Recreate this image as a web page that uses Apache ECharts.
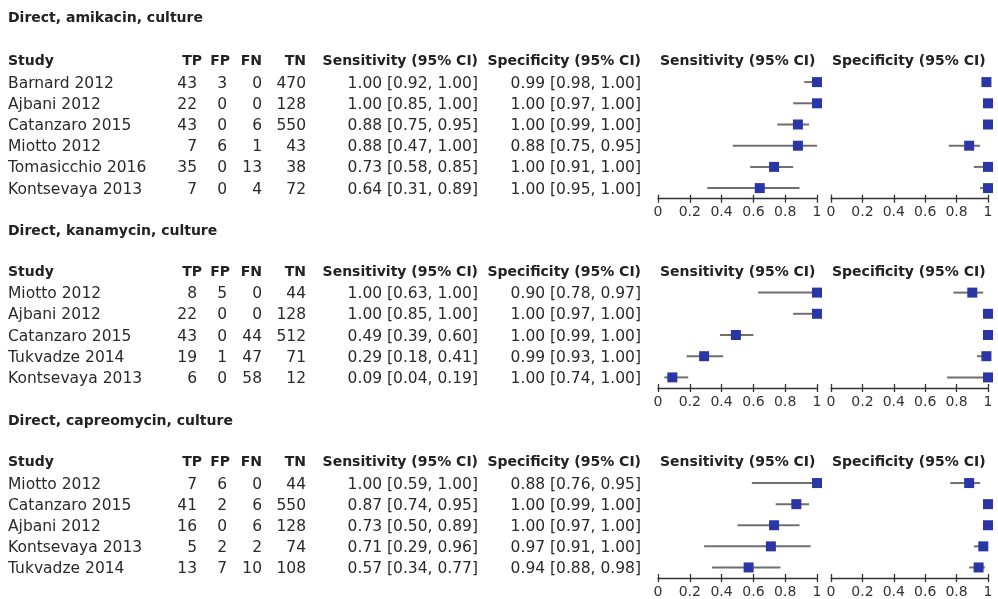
<!DOCTYPE html>
<html>
<head>
<meta charset="utf-8">
<script src="https://cdn.jsdelivr.net/npm/echarts@6/dist/echarts.min.js"></script>
<style>html,body{margin:0;padding:0;background:#fff;}#c{width:998px;height:599px;}</style>
</head>
<body>
<div id="c"></div>
<script>
// ---------- DATA ----------
const titles = ['Direct, amikacin, culture', 'Direct, kanamycin, culture', 'Direct, capreomycin, culture'];

const amiStudies = ['Barnard 2012', 'Ajbani 2012', 'Catanzaro 2015', 'Miotto 2012', 'Tomasicchio 2016', 'Kontsevaya 2013'];
const amiTP = [43, 22, 43, 7, 35, 7];
const amiFP = [3, 0, 0, 6, 0, 0];
const amiFN = [0, 0, 6, 1, 13, 4];
const amiTN = [470, 128, 550, 43, 38, 72];
const amiSens = [1.00, 1.00, 0.88, 0.88, 0.73, 0.64];
const amiSensLo = [0.92, 0.85, 0.75, 0.47, 0.58, 0.31];
const amiSensHi = [1.00, 1.00, 0.95, 1.00, 0.85, 0.89];
const amiSpec = [0.99, 1.00, 1.00, 0.88, 1.00, 1.00];
const amiSpecLo = [0.98, 0.97, 0.99, 0.75, 0.91, 0.95];
const amiSpecHi = [1.00, 1.00, 1.00, 0.95, 1.00, 1.00];

const kanStudies = ['Miotto 2012', 'Ajbani 2012', 'Catanzaro 2015', 'Tukvadze 2014', 'Kontsevaya 2013'];
const kanTP = [8, 22, 43, 19, 6];
const kanFP = [5, 0, 0, 1, 0];
const kanFN = [0, 0, 44, 47, 58];
const kanTN = [44, 128, 512, 71, 12];
const kanSens = [1.00, 1.00, 0.49, 0.29, 0.09];
const kanSensLo = [0.63, 0.85, 0.39, 0.18, 0.04];
const kanSensHi = [1.00, 1.00, 0.60, 0.41, 0.19];
const kanSpec = [0.90, 1.00, 1.00, 0.99, 1.00];
const kanSpecLo = [0.78, 0.97, 0.99, 0.93, 0.74];
const kanSpecHi = [0.97, 1.00, 1.00, 1.00, 1.00];

const capStudies = ['Miotto 2012', 'Catanzaro 2015', 'Ajbani 2012', 'Kontsevaya 2013', 'Tukvadze 2014'];
const capTP = [7, 41, 16, 5, 13];
const capFP = [6, 2, 0, 2, 7];
const capFN = [0, 6, 6, 2, 10];
const capTN = [44, 550, 128, 74, 108];
const capSens = [1.00, 0.87, 0.73, 0.71, 0.57];
const capSensLo = [0.59, 0.74, 0.50, 0.29, 0.34];
const capSensHi = [1.00, 0.95, 0.89, 0.96, 0.77];
const capSpec = [0.88, 1.00, 1.00, 0.97, 0.94];
const capSpecLo = [0.76, 0.99, 0.97, 0.91, 0.88];
const capSpecHi = [0.95, 1.00, 1.00, 1.00, 0.98];

const tickValues = [0, 0.2, 0.4, 0.6, 0.8, 1];
const tableHeaders = ['Study', 'TP', 'FP', 'FN', 'TN', 'Sensitivity (95% CI)', 'Specificity (95% CI)'];
const plotHeaders = ['Sensitivity (95% CI)', 'Specificity (95% CI)'];

// ---------- LAYOUT ----------
const W = 998;
const ROW_H = 21.2;
const secTops = [71.5, 282, 472.5];
const titleTops = [11, 224, 414];
const FONT = '"DejaVu Sans", Verdana, sans-serif';
const TXT = '#222';
const BLUE = '#2b36a6';
const GRAYLINE = '#6f6f6f';
const valueCols = [
  {x: 8, align: 'left'}, {x: 197, align: 'right'}, {x: 227, align: 'right'},
  {x: 262, align: 'right'}, {x: 306, align: 'right'}, {x: 478, align: 'right'}, {x: 641, align: 'right'}
];
const headCols = [
  {x: 8, align: 'left'}, {x: 202, align: 'right'}, {x: 230, align: 'right'},
  {x: 262, align: 'right'}, {x: 306, align: 'right'}, {x: 478, align: 'right'}, {x: 641, align: 'right'}
];
const plotHeadX = [660, 832];
const sensGrid = {left: 658, width: 159};
const specGrid = {left: 831, width: 157};

const sections = [
  {studies: amiStudies, tp: amiTP, fp: amiFP, fn: amiFN, tn: amiTN, sens: amiSens, sensLo: amiSensLo, sensHi: amiSensHi, spec: amiSpec, specLo: amiSpecLo, specHi: amiSpecHi},
  {studies: kanStudies, tp: kanTP, fp: kanFP, fn: kanFN, tn: kanTN, sens: kanSens, sensLo: kanSensLo, sensHi: kanSensHi, spec: kanSpec, specLo: kanSpecLo, specHi: kanSpecHi},
  {studies: capStudies, tp: capTP, fp: capFP, fn: capFN, tn: capTN, sens: capSens, sensLo: capSensLo, sensHi: capSensHi, spec: capSpec, specLo: capSpecLo, specHi: capSpecHi}
];

const fmtCI = (v, lo, hi) => v.toFixed(2) + ' [' + lo.toFixed(2) + ', ' + hi.toFixed(2) + ']';

const grid = [], xAxis = [], yAxis = [], series = [], title = [];

sections.forEach((sec, s) => {
  const n = sec.studies.length;
  const top = secTops[s];
  const h = n * ROW_H;
  title.push({text: titles[s], left: 8, top: titleTops[s], padding: 0,
    textStyle: {fontFamily: FONT, fontSize: 14, fontWeight: 'bold', color: TXT}});

  // table grid (pixel-like x units spanning the full width)
  const gTable = grid.length;
  grid.push({left: 0, width: W, top: top, height: h});
  xAxis.push({gridIndex: gTable, type: 'value', min: 0, max: W, show: false});
  yAxis.push({gridIndex: gTable, type: 'category', data: sec.studies, inverse: true, show: false});

  const rows = sec.studies.map((st, i) => [0, i]);
  const xiTable = xAxis.length - 1, yiTable = yAxis.length - 1;
  series.push({
    type: 'custom', xAxisIndex: xiTable, yAxisIndex: yiTable, silent: true, clip: false,
    data: rows, encode: {x: 0, y: 1},
    renderItem: (params, api) => {
      const i = api.value(1);
      const y = api.coord([0, i])[1];
      const band = api.size([0, 1])[1];
      const vals = [sec.studies[i], String(sec.tp[i]), String(sec.fp[i]), String(sec.fn[i]), String(sec.tn[i]),
        fmtCI(sec.sens[i], sec.sensLo[i], sec.sensHi[i]), fmtCI(sec.spec[i], sec.specLo[i], sec.specHi[i])];
      const children = vals.map((t, c) => ({
        type: 'text',
        style: {text: t, x: api.coord([valueCols[c].x, i])[0], y: y + 1.5, align: valueCols[c].align, verticalAlign: 'middle',
          fill: '#2a2a2a', font: '15.5px ' + FONT}
      }));
      if (i === 0) {
        tableHeaders.forEach((t, c) => children.push({
          type: 'text',
          style: {text: t, x: api.coord([headCols[c].x, i])[0], y: y - band + 0.5, align: headCols[c].align, verticalAlign: 'middle',
            fill: TXT, font: 'bold 14px ' + FONT}
        }));
        plotHeaders.forEach((t, c) => children.push({
          type: 'text',
          style: {text: t, x: api.coord([plotHeadX[c], i])[0], y: y - band + 0.5, align: 'left', verticalAlign: 'middle',
            fill: TXT, font: 'bold 14px ' + FONT}
        }));
      }
      return {type: 'group', children: children};
    }
  });

  // plot grids
  [[sensGrid, sec.sens, sec.sensLo, sec.sensHi], [specGrid, sec.spec, sec.specLo, sec.specHi]].forEach(([g, v, lo, hi]) => {
    const gi = grid.length;
    grid.push({left: g.left, width: g.width, top: top, height: h});
    const xMain = xAxis.length;
    xAxis.push({
      gridIndex: gi, type: 'value', min: tickValues[0], max: tickValues[tickValues.length - 1], interval: 0.2, position: 'bottom',
      axisLine: {show: true, lineStyle: {color: '#333', width: 1.3}},
      axisTick: {show: true, inside: false, length: 4, lineStyle: {color: '#333', width: 1.3}},
      axisLabel: {show: true, margin: 7, fontFamily: FONT, fontSize: 14, color: '#333',
        formatter: val => (tickValues.indexOf(Math.round(val * 10) / 10) >= 0 ? String(Math.round(val * 10) / 10) : '')},
      splitLine: {show: false}
    });
    xAxis.push({
      gridIndex: gi, type: 'value', min: 0, max: 1, interval: 0.2, position: 'bottom',
      axisLine: {show: false}, axisLabel: {show: false}, splitLine: {show: false},
      axisTick: {show: true, inside: true, length: 4, lineStyle: {color: '#333', width: 1.3}}
    });
    const yi = yAxis.length;
    yAxis.push({gridIndex: gi, type: 'category', data: sec.studies, inverse: true, show: false});
    series.push({
      type: 'custom', xAxisIndex: xMain, yAxisIndex: yi, silent: true, clip: false,
      data: sec.studies.map((st, i) => [lo[i], hi[i], i]),
      encode: {x: [0, 1], y: 2},
      renderItem: (params, api) => {
        const p1 = api.coord([api.value(0), api.value(2)]);
        const p2 = api.coord([api.value(1), api.value(2)]);
        return {type: 'line', shape: {x1: p1[0], y1: p1[1], x2: p2[0], y2: p2[1]}, style: {stroke: GRAYLINE, lineWidth: 2}};
      }
    });
    series.push({
      type: 'scatter', xAxisIndex: xMain, yAxisIndex: yi, silent: true, z: 5,
      symbol: 'rect', symbolSize: 10, itemStyle: {color: BLUE, opacity: 1},
      data: sec.studies.map((st, i) => [v[i], i])
    });
  });
});

const chart = echarts.init(document.getElementById('c'), null, {renderer: 'canvas'});
chart.setOption({backgroundColor: '#fff', animation: false, title, grid, xAxis, yAxis, series});
</script>
</body>
</html>
